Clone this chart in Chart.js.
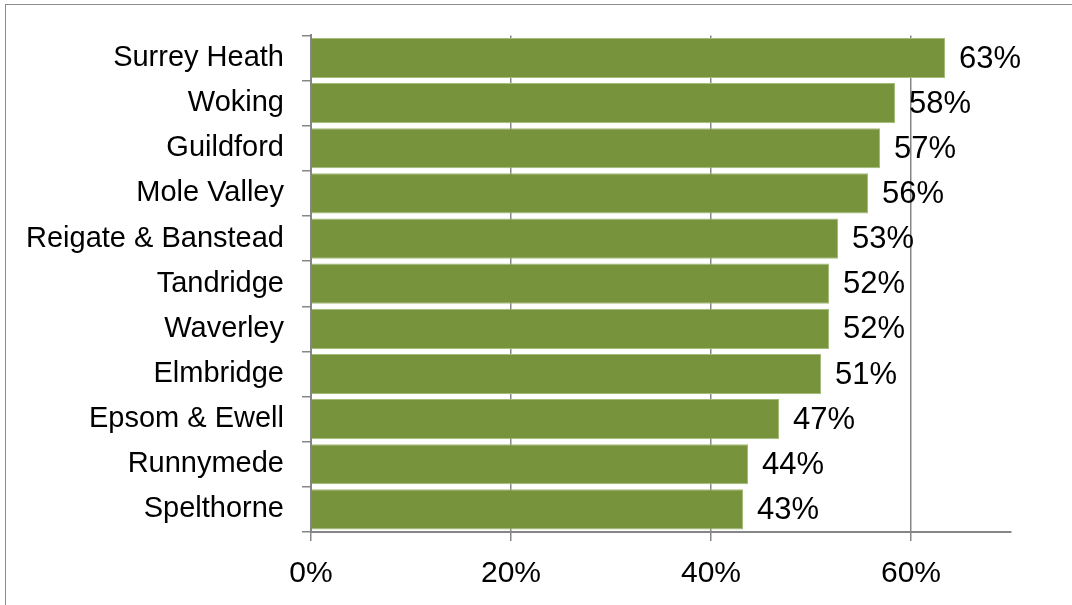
<!DOCTYPE html>
<html>
<head>
<meta charset="utf-8">
<script src="https://cdn.jsdelivr.net/npm/chart.js@4"></script>
<style>
  html, body { margin: 0; padding: 0; background: #fff; overflow: hidden; }
  #frame {
    position: absolute; left: 5px; top: 4px; width: 1200px; height: 800px;
    border: 1px solid #8c8c8c; box-sizing: border-box;
  }
  #wrap { position: absolute; left: 0; top: 0; width: 1072px; height: 605px; }
</style>
</head>
<body>
<div id="frame"></div>
<div id="wrap"><canvas id="chart" width="1072" height="605"></canvas></div>
<script>
const districts = [
  "Surrey Heath",
  "Woking",
  "Guildford",
  "Mole Valley",
  "Reigate & Banstead",
  "Tandridge",
  "Waverley",
  "Elmbridge",
  "Epsom & Ewell",
  "Runnymede",
  "Spelthorne",
];
const shares = [63.4, 58.4, 56.9, 55.7, 52.7, 51.8, 51.8, 51.0, 46.8, 43.7, 43.2];
const xTicks = [0, 20, 40, 60];

const gridGrey = "#868686";

// value labels just to the right of each bar
const barLabels = {
  id: "barLabels",
  afterDatasetsDraw(chart) {
    const ctx = chart.ctx;
    const meta = chart.getDatasetMeta(0);
    ctx.save();
    ctx.font = '31px "Liberation Sans", Arial, sans-serif';
    ctx.fillStyle = "#000";
    ctx.textAlign = "left";
    ctx.textBaseline = "middle";
    meta.data.forEach((bar, i) => {
      ctx.fillText(Math.round(shares[i]) + "%", bar.x + 14, bar.y + 1);
    });
    ctx.restore();
  },
};

const canvaEl = document.getElementById("chart");
const chart = new Chart(canvaEl, {
  type: "bar",
  data: {
    labels: districts,
    datasets: [
      {
        data: shares,
        backgroundColor: "#77933c",
        borderColor: "#a3bd78",
        borderWidth: 1,
        borderSkipped: "left",
        categoryPercentage: 1,
        barPercentage: 0.89,
      },
    ],
  },
  options: {
    indexAxis: "y",
    responsive: false,
    animation: false,
    layout: { padding: { top: 33, right: 61, left: 0, bottom: 0 } },
    plugins: { legend: { display: false }, tooltip: { enabled: false } },
    scales: {
      x: {
        min: 0,
        max: 70,
        afterBuildTicks(scale) {
          scale.ticks = xTicks.map((v) => ({ value: v }));
        },
        afterFit(scale) {
          scale.height = 605 - 532;
        },
        grid: { color: gridGrey, lineWidth: 1.5, tickLength: 9 },
        border: { color: gridGrey, width: 2 },
        ticks: {
          color: "#000",
          padding: 15,
          maxRotation: 0,
          font: { family: '"Liberation Sans", Arial, sans-serif', size: 30 },
          callback: (v) => v + "%",
        },
      },
      y: {
        afterFit(scale) {
          scale.width = 311;
        },
        grid: {
          color: gridGrey,
          lineWidth: 1.5,
          drawOnChartArea: false,
          tickLength: 9,
        },
        border: { color: gridGrey, width: 2 },
        ticks: {
          color: "#000",
          padding: 18,
          font: { family: '"Liberation Sans", Arial, sans-serif', size: 29 },
        },
      },
    },
  },
  plugins: [barLabels],
});
</script>
</body>
</html>
